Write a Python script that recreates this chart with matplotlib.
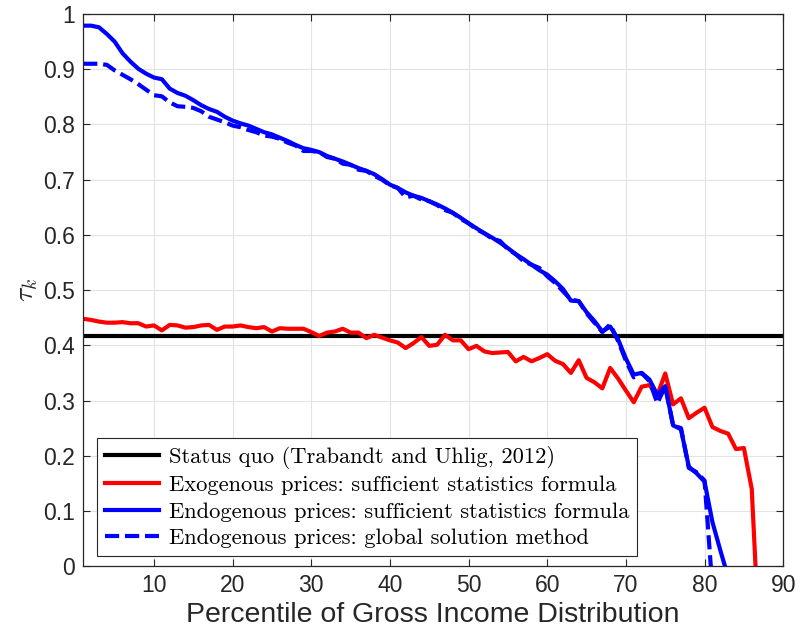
import matplotlib
matplotlib.use("Agg")
import matplotlib.pyplot as plt
import numpy as np

# percentile grid (integer percentiles of gross income)
pct_red = np.arange(1, 88)
pct_blue = np.arange(1, 84)
pct_dash = np.arange(1, 82)

status_quo = 0.416

tau_exog = [
    0.448, 0.446, 0.443, 0.441, 0.441, 0.442, 0.440, 0.440, 0.434, 0.436,
    0.427, 0.437, 0.436, 0.432, 0.433, 0.436, 0.437, 0.428, 0.434, 0.434,
    0.436, 0.433, 0.431, 0.433, 0.425, 0.431, 0.430, 0.430, 0.430, 0.424,
    0.417, 0.423, 0.425, 0.430, 0.423, 0.423, 0.413, 0.419, 0.414, 0.409,
    0.405, 0.395, 0.404, 0.415, 0.399, 0.401, 0.419, 0.409, 0.409, 0.393,
    0.399, 0.389, 0.386, 0.387, 0.388, 0.371, 0.379, 0.371, 0.377, 0.384,
    0.372, 0.366, 0.350, 0.373, 0.341, 0.333, 0.322, 0.359, 0.340, 0.318,
    0.297, 0.325, 0.328, 0.310, 0.349, 0.293, 0.304, 0.268, 0.278, 0.287,
    0.252, 0.245, 0.240, 0.212, 0.214, 0.140, -0.150,
]

tau_endog = [
    0.979, 0.979, 0.976, 0.964, 0.950, 0.929, 0.914, 0.901, 0.892, 0.885,
    0.882, 0.865, 0.857, 0.852, 0.844, 0.835, 0.828, 0.823, 0.814, 0.807,
    0.802, 0.798, 0.792, 0.786, 0.782, 0.776, 0.770, 0.763, 0.757, 0.754,
    0.750, 0.743, 0.738, 0.733, 0.727, 0.721, 0.716, 0.710, 0.701, 0.691,
    0.685, 0.677, 0.671, 0.667, 0.661, 0.655, 0.648, 0.640, 0.631, 0.621,
    0.612, 0.603, 0.595, 0.586, 0.576, 0.565, 0.556, 0.546, 0.536, 0.528,
    0.516, 0.502, 0.481, 0.480, 0.460, 0.444, 0.425, 0.434, 0.411, 0.376,
    0.347, 0.350, 0.338, 0.310, 0.326, 0.255, 0.248, 0.180, 0.168, 0.153,
    0.080, 0.029, -0.020,
]

tau_global = [
    0.910, 0.910, 0.910, 0.908, 0.898, 0.890, 0.882, 0.873, 0.863, 0.853,
    0.851, 0.840, 0.833, 0.832, 0.830, 0.824, 0.814, 0.809, 0.804, 0.798,
    0.795, 0.790, 0.786, 0.780, 0.778, 0.774, 0.767, 0.762, 0.752, 0.752,
    0.750, 0.741, 0.738, 0.729, 0.727, 0.718, 0.716, 0.707, 0.700, 0.690,
    0.685, 0.668, 0.671, 0.664, 0.661, 0.654, 0.645, 0.640, 0.629, 0.621,
    0.610, 0.603, 0.593, 0.589, 0.574, 0.565, 0.552, 0.546, 0.540, 0.525,
    0.513, 0.498, 0.483, 0.480, 0.458, 0.441, 0.424, 0.438, 0.408, 0.372,
    0.342, 0.350, 0.335, 0.295, 0.326, 0.255, 0.250, 0.178, 0.170, 0.155,
    -0.040,
]

labels = [
    "Status quo (Trabandt and Uhlig, 2012)",
    "Exogenous prices: sufficient statistics formula",
    "Endogenous prices: sufficient statistics formula",
    "Endogenous prices: global solution method",
]

plt.rcParams["font.family"] = ["Liberation Sans", "DejaVu Sans"]
plt.rcParams["mathtext.fontset"] = "cm"

fig = plt.figure(figsize=(8, 6.39), dpi=100)
ax = fig.add_axes([0.104, 0.114, 0.875, 0.864])

lw = 3.0
ax.axhline(status_quo, color="black", lw=lw, label=labels[0])
ax.plot(pct_red, tau_exog, color="#ff0000", lw=lw, label=labels[1])
ax.plot(pct_blue, tau_endog, color="#0000ff", lw=lw, label=labels[2])
ax.plot(pct_dash, tau_global, color="#0000ff", lw=lw, dashes=(3.4, 1.4),
        label=labels[3])

ax.set_xlim(1, 90)
ax.set_ylim(0, 1)
ax.set_xticks(np.arange(10, 91, 10))
ax.set_yticks(np.arange(0, 1.01, 0.1))
ax.set_yticklabels(["0", "0.1", "0.2", "0.3", "0.4", "0.5", "0.6", "0.7",
                    "0.8", "0.9", "1"])
ax.grid(True, color="#e3e3e3", lw=0.8)
ax.set_axisbelow(True)
ax.tick_params(direction="in", top=True, right=True, length=5, width=0.8,
               colors="#262626", labelsize=16.5, pad=6)
for sp in ax.spines.values():
    sp.set_color("#262626")
    sp.set_linewidth(0.9)

ax.set_xlabel("Percentile of Gross Income Distribution", fontsize=20.5,
              color="#262626", labelpad=3)
ax.set_ylabel(r"$\tau_k$", fontsize=20, color="#262626", labelpad=2)

leg = ax.legend(loc="lower left", bbox_to_anchor=(0.02, 0.018),
                borderaxespad=0, prop={"family": "cmr10", "size": 16.2},
                handlelength=2.4, handletextpad=0.45, borderpad=0.35,
                labelspacing=0.3, fancybox=False, framealpha=1)
leg.get_frame().set_edgecolor("#262626")
leg.get_frame().set_linewidth(0.8)

fig.savefig("out.png", dpi=100)
